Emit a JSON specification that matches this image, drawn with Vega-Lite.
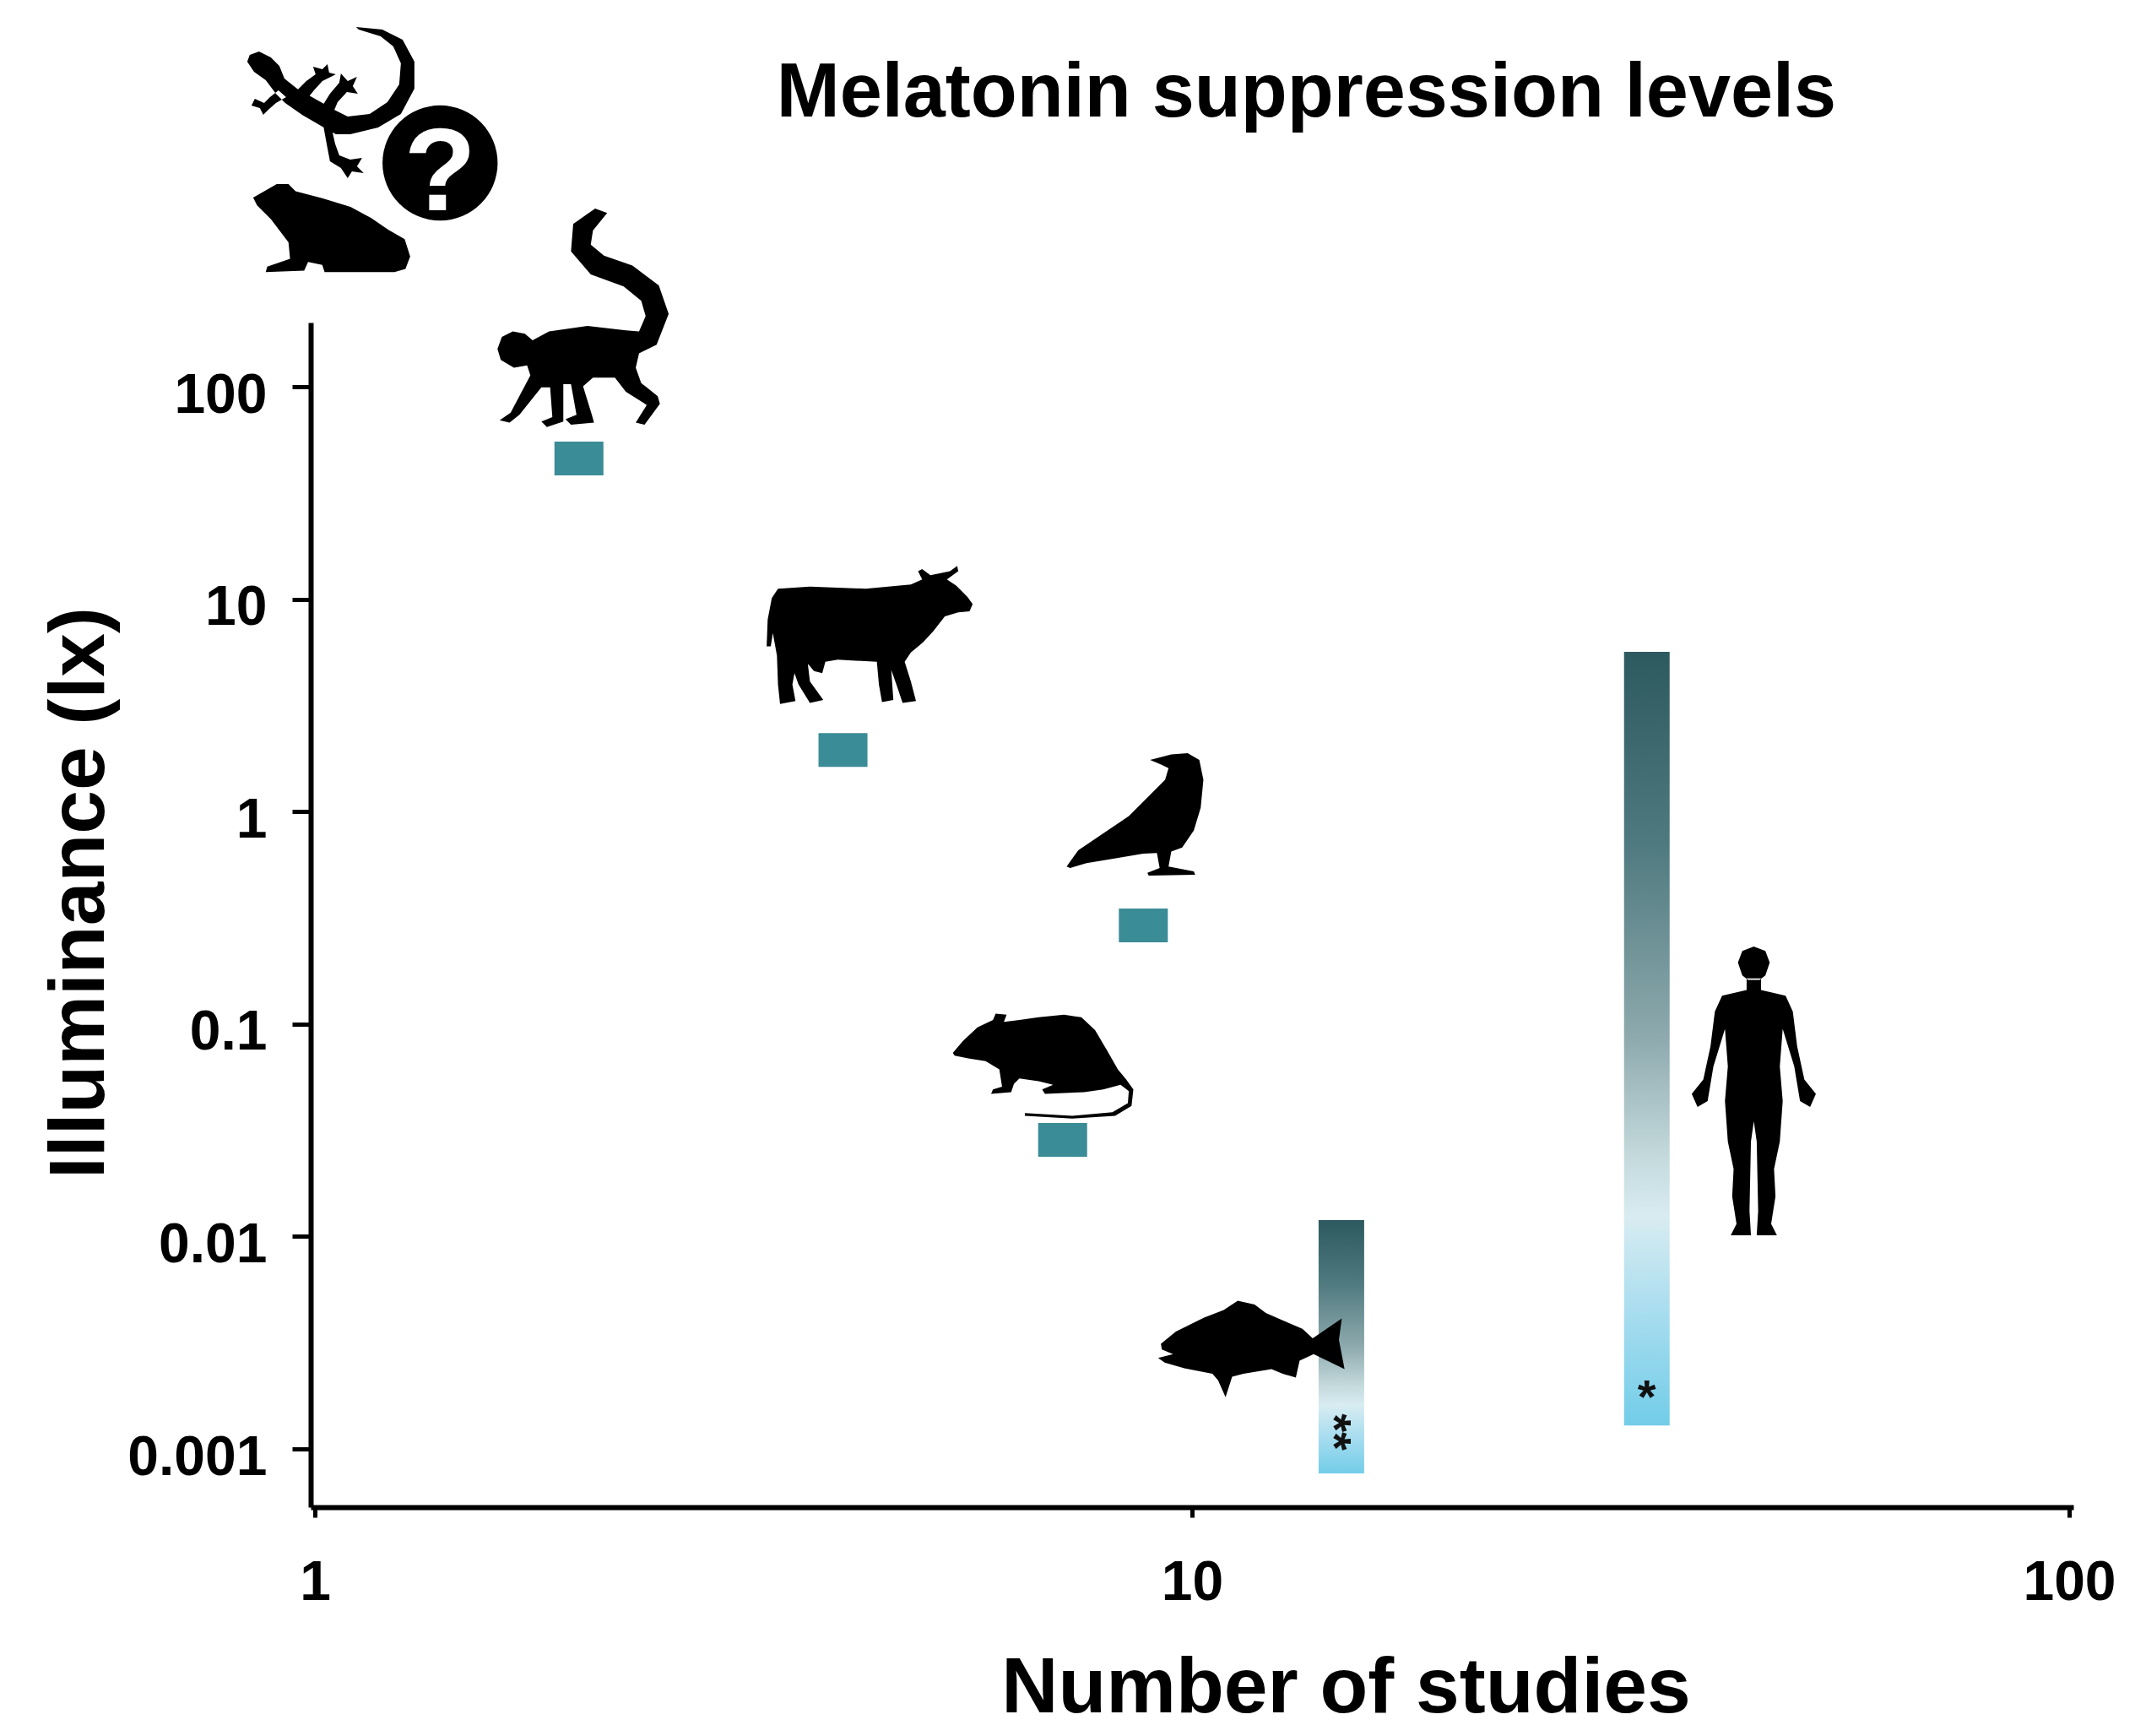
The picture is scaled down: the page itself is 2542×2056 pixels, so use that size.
{
  "$schema": "https://vega.github.io/schema/vega-lite/v6.json",
  "autosize": {"type": "none"},
  "padding": {"left": 368, "top": 382, "right": 86, "bottom": 271},
  "width": 2088,
  "height": 1403,
  "background": "white",
  "datasets": {
    "heading": [
      {"text": "Melatonin suppression levels", "studies": 13.5, "lux": 1871}
    ],
    "squares": [
      {"species": "Primates", "studies": 2.0, "lux": 45.9},
      {"species": "Cattle", "studies": 4.0, "lux": 1.95},
      {"species": "Birds", "studies": 8.8, "lux": 0.291},
      {"species": "Rodents", "studies": 7.12, "lux": 0.0285}
    ],
    "ranges": [
      {"species": "Fish", "studies": 14.8, "low": 0.000767, "high": 0.01194, "note": "**", "noteLux": 0.0012},
      {"species": "Humans", "studies": 33.0, "low": 0.00129, "high": 5.65, "note": "*", "noteLux": 0.00178}
    ],
    "icons": [
      {"icon": "gecko", "studies": 1.045, "lux": 2143},
      {"icon": "frog", "studies": 1.045, "lux": 558},
      {"icon": "unknown", "studies": 1.389, "lux": 1130},
      {"icon": "monkey", "studies": 2.016, "lux": 210},
      {"icon": "cow", "studies": 4.29, "lux": 6.78},
      {"icon": "crow", "studies": 8.61, "lux": 0.975},
      {"icon": "rat", "studies": 6.78, "lux": 0.0637},
      {"icon": "fish", "studies": 11.67, "lux": 0.00297},
      {"icon": "human", "studies": 43.7, "lux": 0.0484}
    ]
  },
  "config": {
    "view": {"stroke": null},
    "font": "Liberation Sans",
    "axis": {
      "grid": false,
      "domainColor": "black",
      "tickColor": "black",
      "labelColor": "black",
      "titleColor": "black",
      "labelFont": "Liberation Sans",
      "titleFont": "Liberation Sans",
      "labelFontSize": 66,
      "labelFontWeight": "bold",
      "titleFontSize": 93,
      "titleFontWeight": "bold",
      "domainWidth": 6,
      "tickWidth": 5
    }
  },
  "layer": [
    {
      "data": {"name": "squares"},
      "mark": {"type": "point", "shape": "M-1,-0.69H1V0.69H-1Z", "size": 3364, "filled": true, "color": "#3a8c96", "opacity": 1, "strokeWidth": 0},
      "encoding": {
        "x": {
          "field": "studies", "type": "quantitative",
          "scale": {"type": "log", "domain": [1, 100], "nice": false},
          "axis": {
            "values": [1, 10, 100], "format": "~g", "title": "Number of studies",
            "tickSize": 12, "labelPadding": 45,
            "titleX": 1226, "titleY": 242, "titleAlign": "center", "titleBaseline": "alphabetic"
          }
        },
        "y": {
          "field": "lux", "type": "quantitative",
          "scale": {"type": "log", "domain": [0.000532, 200.5], "nice": false},
          "axis": {
            "values": [0.001, 0.01, 0.1, 1, 10, 100], "format": "~g", "title": "Illuminance (lx)",
            "tickSize": 22, "labelPadding": 30, "labelOffset": 10,
            "titleX": -246, "titleY": 675, "titleAngle": 270, "titleAlign": "center", "titleBaseline": "alphabetic"
          }
        }
      }
    },
    {
      "data": {"name": "heading"},
      "mark": {"type": "text", "font": "Liberation Sans", "fontSize": 90, "fontWeight": "bold", "color": "black", "align": "center", "baseline": "alphabetic"},
      "encoding": {
        "x": {"field": "studies", "type": "quantitative"},
        "y": {"field": "lux", "type": "quantitative"},
        "text": {"field": "text"}
      }
    },
    {
      "data": {"name": "ranges"},
      "mark": {
        "type": "bar", "width": 54,
        "color": {
          "gradient": "linear", "x1": 0, "y1": 0, "x2": 0, "y2": 1,
          "stops": [
            {"offset": 0, "color": "#2d5a5f"},
            {"offset": 0.25, "color": "#4f7a7f"},
            {"offset": 0.5, "color": "#8eaaae"},
            {"offset": 0.65, "color": "#c3d9dc"},
            {"offset": 0.73, "color": "#d8ecf1"},
            {"offset": 0.86, "color": "#a6dcef"},
            {"offset": 1, "color": "#72cde8"}
          ]
        }
      },
      "encoding": {
        "x": {"field": "studies", "type": "quantitative"},
        "y": {"field": "low", "type": "quantitative"},
        "y2": {"field": "high"}
      }
    },
    {
      "data": {"name": "ranges"},
      "transform": [{"filter": "datum.species === 'Fish'"}],
      "mark": {"type": "text", "font": "Liberation Sans", "fontSize": 56, "fontWeight": "bold", "color": "#111111", "angle": 90, "baseline": "middle", "align": "center", "dy": 10},
      "encoding": {
        "x": {"field": "studies", "type": "quantitative"},
        "y": {"field": "noteLux", "type": "quantitative"},
        "text": {"field": "note"}
      }
    },
    {
      "data": {"name": "ranges"},
      "transform": [{"filter": "datum.species === 'Humans'"}],
      "mark": {"type": "text", "font": "Liberation Sans", "fontSize": 56, "fontWeight": "bold", "color": "#111111", "baseline": "middle", "align": "center", "dy": 3},
      "encoding": {
        "x": {"field": "studies", "type": "quantitative"},
        "y": {"field": "noteLux", "type": "quantitative"},
        "text": {"field": "note"}
      }
    },
    {
      "data": {"name": "icons"},
      "transform": [{"filter": "datum.icon === 'gecko'"}],
      "mark": {"type": "point", "filled": true, "color": "black", "opacity": 1, "strokeWidth": 0, "size": 40000,
        "shape": "M-0.97,-0.58L-0.86,-0.62L-0.72,-0.55L-0.62,-0.45L-0.56,-0.30L-0.41,-0.18L-0.18,-0.05L0.05,0.08L0.19,0.15L0.45,0.12L0.66,-0.02L0.80,-0.23L0.82,-0.48L0.73,-0.68L0.58,-0.80L0.32,-0.88L0.29,-0.91L0.60,-0.88L0.84,-0.76L0.98,-0.50L0.98,-0.18L0.82,0.12L0.55,0.28L0.22,0.36L0.05,0.36L-0.11,0.27L-0.35,0.13L-0.55,-0.01L-0.66,-0.12L-0.78,-0.28L-0.92,-0.38L-1.0,-0.50ZM-0.63,-0.16L-0.73,-0.08L-0.80,-0.01L-0.91,-0.06L-0.95,0.02L-0.85,0.05L-0.81,0.13L-0.74,0.06L-0.66,-0.01L-0.54,-0.08ZM-0.42,-0.15L-0.30,-0.27L-0.19,-0.35L-0.22,-0.44L-0.11,-0.41L-0.05,-0.47L-0.03,-0.37L0.05,-0.35L-0.11,-0.27L-0.21,-0.16L-0.29,-0.06ZM-0.12,0.04L-0.02,-0.12L0.09,-0.25L0.11,-0.36L0.19,-0.27L0.30,-0.32L0.25,-0.21L0.31,-0.12L0.18,-0.14L0.07,-0.02L0.02,0.10ZM0.0,0.29L0.04,0.47L0.09,0.61L0.22,0.66L0.36,0.64L0.30,0.74L0.38,0.82L0.24,0.80L0.19,0.88L0.11,0.76L-0.02,0.68L-0.06,0.47L-0.10,0.25Z"},
      "encoding": {"x": {"field": "studies", "type": "quantitative"}, "y": {"field": "lux", "type": "quantitative"}}
    },
    {
      "data": {"name": "icons"},
      "transform": [{"filter": "datum.icon === 'frog'"}],
      "mark": {"type": "point", "filled": true, "color": "black", "opacity": 1, "strokeWidth": 0, "size": 34596,
        "shape": "M-1.0,-0.39L-0.84,-0.48L-0.70,-0.56L-0.55,-0.56L-0.46,-0.47L-0.12,-0.38L0.24,-0.27L0.50,-0.13L0.72,0.02L0.93,0.14L1.0,0.36L0.94,0.52L0.80,0.56L-0.09,0.56L-0.12,0.47L-0.30,0.43L-0.35,0.54L-0.84,0.56L-0.82,0.49L-0.53,0.39L-0.55,0.18L-0.77,-0.11L-0.95,-0.29Z"},
      "encoding": {"x": {"field": "studies", "type": "quantitative"}, "y": {"field": "lux", "type": "quantitative"}}
    },
    {
      "data": {"name": "icons"},
      "transform": [{"filter": "datum.icon === 'unknown'"}],
      "mark": {"type": "point", "shape": "circle", "filled": true, "color": "black", "opacity": 1, "strokeWidth": 0, "size": 18600},
      "encoding": {"x": {"field": "studies", "type": "quantitative"}, "y": {"field": "lux", "type": "quantitative"}}
    },
    {
      "data": {"name": "icons"},
      "transform": [{"filter": "datum.icon === 'unknown'"}],
      "mark": {"type": "text", "text": "?", "font": "Liberation Sans", "fontSize": 140, "fontWeight": "bold", "color": "white", "baseline": "middle", "align": "center", "dy": 14},
      "encoding": {"x": {"field": "studies", "type": "quantitative"}, "y": {"field": "lux", "type": "quantitative"}}
    },
    {
      "data": {"name": "icons"},
      "transform": [{"filter": "datum.icon === 'monkey'"}],
      "mark": {"type": "point", "filled": true, "color": "black", "opacity": 1, "strokeWidth": 0, "size": 67600,
        "shape": "M-0.77,0.28L-0.73,0.17L-0.63,0.12L-0.52,0.14L-0.45,0.20L-0.30,0.12L0.05,0.07L0.40,0.11L0.52,0.12L0.58,-0.02L0.54,-0.16L0.38,-0.29L0.08,-0.40L-0.10,-0.61L-0.08,-0.86L0.12,-1.0L0.23,-0.96L0.10,-0.80L0.08,-0.67L0.20,-0.57L0.46,-0.48L0.70,-0.30L0.79,-0.04L0.68,0.24L0.52,0.32L0.49,0.45L0.54,0.59L0.69,0.71L0.71,0.78L0.57,0.97L0.49,0.95L0.59,0.79L0.40,0.67L0.30,0.54L0.10,0.54L0.01,0.62L0.09,0.88L0.11,0.95L-0.10,0.97L-0.15,0.92L-0.05,0.88L-0.10,0.60L-0.17,0.60L-0.17,0.94L-0.32,0.99L-0.37,0.94L-0.27,0.90L-0.29,0.63L-0.37,0.63L-0.57,0.88L-0.66,0.95L-0.75,0.93L-0.65,0.86L-0.47,0.52L-0.50,0.43L-0.62,0.45L-0.74,0.38Z"},
      "encoding": {"x": {"field": "studies", "type": "quantitative"}, "y": {"field": "lux", "type": "quantitative"}}
    },
    {
      "data": {"name": "icons"},
      "transform": [{"filter": "datum.icon === 'cow'"}],
      "mark": {"type": "point", "filled": true, "color": "black", "opacity": 1, "strokeWidth": 0, "size": 59536,
        "shape": "M-0.89,-0.45L-0.58,-0.47L-0.04,-0.45L0.40,-0.49L0.51,-0.54L0.47,-0.62L0.51,-0.64L0.59,-0.58L0.78,-0.62L0.85,-0.67L0.86,-0.62L0.75,-0.54L0.84,-0.48L0.95,-0.37L1.0,-0.30L0.97,-0.23L0.86,-0.22L0.73,-0.18L0.62,-0.04L0.52,0.07L0.40,0.17L0.34,0.26L0.40,0.45L0.45,0.64L0.32,0.66L0.26,0.48L0.21,0.34L0.23,0.63L0.12,0.65L0.09,0.48L0.07,0.26L-0.31,0.24L-0.43,0.26L-0.46,0.37L-0.54,0.35L-0.60,0.28L-0.58,0.45L-0.45,0.63L-0.58,0.66L-0.69,0.48L-0.73,0.37L-0.75,0.48L-0.72,0.64L-0.87,0.67L-0.89,0.48L-0.90,0.20L-0.94,-0.02L-0.96,0.11L-1.0,0.11L-0.99,-0.15L-0.95,-0.36Z"},
      "encoding": {"x": {"field": "studies", "type": "quantitative"}, "y": {"field": "lux", "type": "quantitative"}}
    },
    {
      "data": {"name": "icons"},
      "transform": [{"filter": "datum.icon === 'crow'"}],
      "mark": {"type": "point", "filled": true, "color": "black", "opacity": 1, "strokeWidth": 0, "size": 26244,
        "shape": "M0.22,-0.79L0.53,-0.87L0.77,-0.89L0.94,-0.79L1.0,-0.50L0.96,-0.09L0.86,0.24L0.69,0.49L0.53,0.55L0.49,0.77L0.86,0.84L0.88,0.89L0.20,0.90L0.18,0.86L0.36,0.79L0.32,0.57L0.12,0.58L-0.30,0.65L-0.71,0.72L-0.95,0.79L-1.0,0.77L-0.93,0.67L-0.83,0.53L-0.46,0.28L-0.09,0.03L0.20,-0.26L0.44,-0.50L0.49,-0.67L0.36,-0.73Z"},
      "encoding": {"x": {"field": "studies", "type": "quantitative"}, "y": {"field": "lux", "type": "quantitative"}}
    },
    {
      "data": {"name": "icons"},
      "transform": [{"filter": "datum.icon === 'rat'"}],
      "mark": {"type": "point", "filled": true, "color": "black", "opacity": 1, "strokeWidth": 0, "size": 46656,
        "shape": "M-1.0,-0.14L-0.89,-0.27L-0.73,-0.42L-0.56,-0.50L-0.53,-0.57L-0.41,-0.56L-0.44,-0.48L-0.27,-0.50L-0.06,-0.53L0.22,-0.56L0.41,-0.53L0.56,-0.39L0.69,-0.17L0.81,0.04L0.90,0.15L0.98,0.26L0.96,0.44L0.78,0.55L0.31,0.58L-0.21,0.55L-0.21,0.52L0.31,0.55L0.75,0.51L0.92,0.41L0.93,0.28L0.84,0.21L0.65,0.26L0.44,0.29L0.01,0.31L-0.02,0.26L0.10,0.21L-0.06,0.17L-0.27,0.14L-0.33,0.20L-0.36,0.29L-0.58,0.31L-0.56,0.26L-0.46,0.23L-0.49,0.04L-0.64,-0.05L-0.83,-0.08L-0.98,-0.11Z"},
      "encoding": {"x": {"field": "studies", "type": "quantitative"}, "y": {"field": "lux", "type": "quantitative"}}
    },
    {
      "data": {"name": "icons"},
      "transform": [{"filter": "datum.icon === 'fish'"}],
      "mark": {"type": "point", "filled": true, "color": "black", "opacity": 1, "strokeWidth": 0, "size": 49284,
        "shape": "M-0.96,-0.05L-0.80,-0.18L-0.50,-0.33L-0.29,-0.41L-0.14,-0.51L0.04,-0.47L0.16,-0.38L0.34,-0.30L0.55,-0.21L0.66,-0.11L0.97,-0.32L0.94,-0.09L1.0,0.22L0.67,0.06L0.52,0.13L0.48,0.31L0.34,0.27L0.22,0.22L-0.08,0.27L-0.20,0.30L-0.27,0.52L-0.35,0.34L-0.41,0.27L-0.71,0.21L-0.92,0.15L-0.99,0.10L-0.83,0.06L-0.95,0.01Z"},
      "encoding": {"x": {"field": "studies", "type": "quantitative"}, "y": {"field": "lux", "type": "quantitative"}}
    },
    {
      "data": {"name": "icons"},
      "transform": [{"filter": "datum.icon === 'human'"}],
      "mark": {"type": "point", "filled": true, "color": "black", "opacity": 1, "strokeWidth": 0, "size": 116964,
        "shape": "M0,-1.0L0.08,-0.97L0.11,-0.89L0.08,-0.80L0.04,-0.77L-0.04,-0.77L-0.08,-0.80L-0.11,-0.89L-0.08,-0.97ZM-0.05,-0.78L-0.05,-0.70L-0.22,-0.66L-0.27,-0.55L-0.30,-0.31L-0.35,-0.08L-0.43,0.02L-0.39,0.11L-0.32,0.07L-0.28,-0.17L-0.20,-0.43L-0.18,-0.17L-0.20,0.07L-0.18,0.35L-0.14,0.54L-0.15,0.73L-0.12,0.92L-0.16,1.0L-0.02,1.0L-0.03,0.83L-0.02,0.35L0,0.21L0.02,0.35L0.03,0.83L0.02,1.0L0.16,1.0L0.12,0.92L0.15,0.73L0.14,0.54L0.18,0.35L0.20,0.07L0.18,-0.17L0.20,-0.43L0.28,-0.17L0.32,0.07L0.39,0.11L0.43,0.02L0.35,-0.08L0.30,-0.31L0.27,-0.55L0.22,-0.66L0.05,-0.70L0.05,-0.78Z"},
      "encoding": {"x": {"field": "studies", "type": "quantitative"}, "y": {"field": "lux", "type": "quantitative"}}
    }
  ]
}
